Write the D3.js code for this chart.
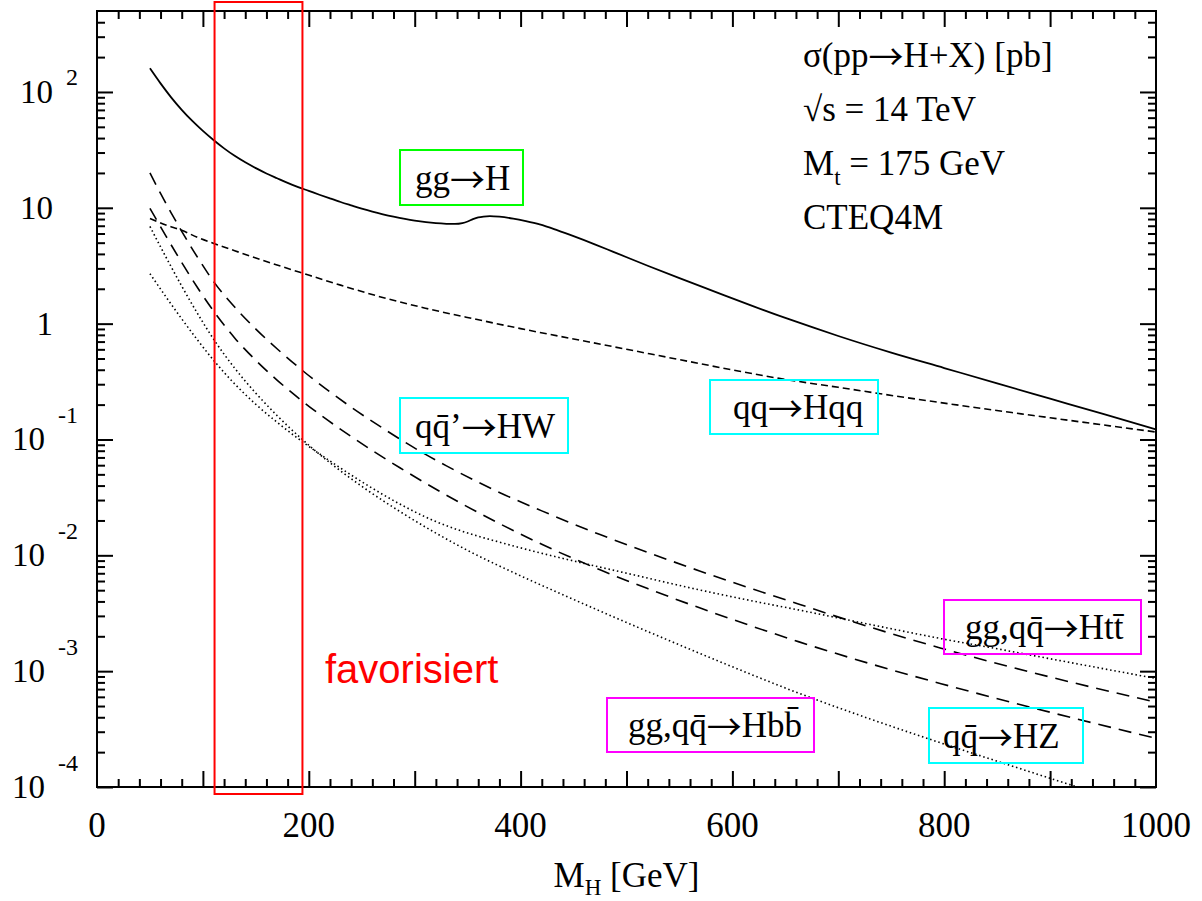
<!DOCTYPE html>
<html>
<head>
<meta charset="utf-8">
<script src="https://cdn.jsdelivr.net/npm/d3@7"></script>
<style>
  body { margin: 0; background: #fff; }
  text { font-family: "Liberation Serif", "Times New Roman", serif; fill: #000; }
</style>
</head>
<body>
<svg id="chart"></svg>
<script>
////////////////////////////////////////////////////////////////////////////////
//////////////////////////////////////////////////////////////////////// Data
////////////////////////////////////////////////////////////////////////////////

// gg -> H (solid)
const ggMass  = [50, 60, 70, 80, 90, 100, 110, 120, 130, 140, 150, 160, 170, 180, 190,
                 200, 210, 220, 230, 240, 250, 260, 270, 280, 300, 320, 330, 338, 345,
                 350, 355, 360, 365, 371, 380, 393, 405, 418, 435, 450, 470, 487, 520,
                 550, 582, 620, 650, 676, 700, 750, 800, 850, 900, 950, 1000];
const ggXsec  = [160, 118.6, 89.9, 70.1, 56.2, 46.1, 38.5, 32.6, 28.1, 24.7, 22.0, 19.8, 18.0, 16.4, 15.1,
                 14.0, 12.97, 12.05, 11.22, 10.5, 9.84, 9.27, 8.79, 8.38, 7.74, 7.36, 7.28, 7.26, 7.38,
                 7.62, 7.98, 8.26, 8.41, 8.49, 8.39, 8.07, 7.67, 7.18, 6.38, 5.69, 4.84, 4.19, 3.16,
                 2.47, 1.91, 1.41, 1.12, 0.927, 0.782, 0.562, 0.414, 0.305, 0.225, 0.166, 0.122];

// qq -> Hqq (short dashes)
const wbfMass = [50, 65, 80, 95, 111, 130, 150, 170, 194, 230, 267, 310, 358, 400, 456,
                 500, 550, 600, 644, 700, 757, 800, 900, 1000];
const wbfXsec = [8.1, 7.1, 6.4, 5.55, 4.9, 4.26, 3.69, 3.21, 2.73, 2.15, 1.71, 1.36, 1.09, 0.906, 0.72,
                 0.601, 0.489, 0.399, 0.337, 0.282, 0.235, 0.206, 0.154, 0.116];

// q qbar' -> HW (long dashes)
const hwMass  = [50, 60, 70, 80, 95, 111, 130, 150, 170, 194, 239, 273, 302, 330, 358,
                 380, 420, 475, 520, 569, 620, 663, 730, 797, 900, 1000];
const hwXsec  = [20, 13.3, 9.06, 6.27, 3.73, 2.25, 1.39, 0.898, 0.607, 0.394, 0.193, 0.120, 0.0822, 0.0592, 0.0437,
                 0.0349, 0.0242, 0.0151, 0.0106, 0.00733, 0.00509, 0.00378, 0.0024, 0.00158, 0.00089, 0.00054];

// q qbar -> HZ (long dashes)
const hzMass  = [50, 65, 80, 95, 111, 130, 150, 170, 194, 240, 286, 346, 380, 420, 475,
                 520, 569, 620, 663, 730, 797, 900, 1000];
const hzXsec  = [9.9, 5.73, 3.37, 2.04, 1.25, 0.753, 0.482, 0.326, 0.214, 0.106, 0.057, 0.0274, 0.0188, 0.01245, 0.0075,
                 0.00516, 0.00352, 0.00242, 0.00179, 0.00116, 0.00078, 0.000442, 0.000263];

// gg, q qbar -> H t tbar (dots)
const httMass = [50, 65, 80, 95, 111, 130, 150, 170, 194, 220, 254, 286, 317, 340, 358,
                 380, 412, 460, 506, 568, 620, 663, 730, 797, 850, 908, 1000];
const httXsec = [2.7, 1.71, 1.10, 0.721, 0.472, 0.302, 0.201, 0.141, 0.0955, 0.0652, 0.041, 0.0277, 0.0201, 0.0167, 0.0148,
                 0.0130, 0.01086, 0.00851, 0.00681, 0.00505, 0.00402, 0.00337, 0.00253, 0.00191, 0.00156, 0.00124, 0.000865];

// gg, q qbar -> H b bbar (dots)
const hbbMass = [50, 65, 80, 95, 111, 130, 150, 170, 194, 220, 254, 286, 320, 349, 400,
                 443, 490, 537, 600, 663, 730, 790, 850, 920, 945];
const hbbXsec = [6.9, 3.77, 2.11, 1.22, 0.714, 0.413, 0.251, 0.161, 0.0998, 0.063, 0.0372, 0.0239, 0.01556, 0.01114, 0.00665,
                 0.00444, 0.00288, 0.00189, 0.00109, 0.000644, 0.000387, 0.000252, 0.000167, 0.000104, 0.0000883];

// Axis ticks
const xTickLabels = [0, 200, 400, 600, 800, 1000];
const yTickValues = [1e2, 1e1, 1, 1e-1, 1e-2, 1e-3, 1e-4];
const yTickBases = ["10", "10", "1", "10", "10", "10", "10"];
const yTickExponents = ["2", "", "", "-1", "-2", "-3", "-4"];

// Process labels and the favoured mass window
const processLabels = ["gg\u2192H", "qq\u0304\u2019\u2192HW", "qq\u2192Hqq",
                       "gg,qq\u0304\u2192Htt\u0304", "gg,qq\u0304\u2192Hbb\u0304", "qq\u0304\u2192HZ"];
const favouredWindow = [111, 194];

////////////////////////////////////////////////////////////////////////////////
//////////////////////////////////////////////////////////////////////// Chart
////////////////////////////////////////////////////////////////////////////////

const plot = { left: 97, right: 1156, top: 11, bottom: 787 };
const arrowFont = "'Noto Sans CJK JP', 'DejaVu Sans', sans-serif";

const svg = d3.select("#chart")
              .attr("width", 1202)
              .attr("height", 901);

const xScale = d3.scaleLinear()
                 .domain([0, 1000])
                 .range([plot.left, plot.right]);
const yScale = d3.scaleLog()
                 .domain([1e-4, 500])
                 .range([plot.bottom, plot.top]);

svg.append("clipPath")
     .attr("id", "plot-clip")
   .append("rect")
     .attr("x", plot.left)
     .attr("y", plot.top)
     .attr("width", plot.right - plot.left)
     .attr("height", plot.bottom - plot.top);

// Write a string into a text node, drawing every arrow with a wide arrow glyph
function writeWithArrows(textSel, str) {
  const parts = str.split("\u2192");
  parts.forEach(function(p, i) {
    if (i > 0) {
      textSel.append("tspan")
               .attr("dy", 3)
               .style("font-family", arrowFont)
               .text("\u2192");
      textSel.append("tspan").attr("dy", -3).text(p);
    } else {
      textSel.append("tspan").text(p);
    }
  });
}

// Curves
const series = [
  { mass: ggMass,  xsec: ggXsec,  dash: null,      width: 1.8 },
  { mass: wbfMass, xsec: wbfXsec, dash: "7,4",     width: 1.6 },
  { mass: hwMass,  xsec: hwXsec,  dash: "13,8",    width: 1.6 },
  { mass: hzMass,  xsec: hzXsec,  dash: "13,8",    width: 1.6 },
  { mass: httMass, xsec: httXsec, dash: "1.5,2.8", width: 1.6 },
  { mass: hbbMass, xsec: hbbXsec, dash: "1.5,2.8", width: 1.6 }
];

const line = d3.line()
               .x(function(d) { return xScale(d[0]); })
               .y(function(d) { return yScale(d[1]); })
               .curve(d3.curveMonotoneX);

svg.append("g")
     .attr("clip-path", "url(#plot-clip)")
   .selectAll("path")
   .data(series)
   .join("path")
     .attr("fill", "none")
     .attr("stroke", "#000")
     .attr("stroke-width", function(d) { return d.width; })
     .attr("stroke-dasharray", function(d) { return d.dash; })
     .attr("d", function(d) {
       return line(d.mass.map(function(m, i) { return [m, d.xsec[i]]; }));
     });

// Ticks (inward, on all four sides)
const xMinor = d3.range(20, 1000, 20).filter(function(v) { return v % 100 !== 0; });
const xMajor = d3.range(100, 1000, 100);
const yMajor = yTickValues;
const yMinor = [];
for (let e = -4; e <= 2; e++) {
  for (let k = 2; k <= 9; k++) {
    const v = k * Math.pow(10, e);
    if (v < 500) yMinor.push(v);
  }
}

function addAxis(axis, transform) {
  const g = svg.append("g")
                 .attr("transform", transform)
                 .call(axis);
  g.select(".domain").remove();
  g.selectAll(".tick line")
     .attr("stroke", "#000")
     .attr("stroke-width", 2);
  g.selectAll(".tick text").remove();
}

addAxis(d3.axisBottom(xScale).tickValues(xMinor).tickSize(-8), `translate(0,${plot.bottom})`);
addAxis(d3.axisBottom(xScale).tickValues(xMajor).tickSize(-16), `translate(0,${plot.bottom})`);
addAxis(d3.axisTop(xScale).tickValues(xMinor).tickSize(-8), `translate(0,${plot.top})`);
addAxis(d3.axisTop(xScale).tickValues(xMajor).tickSize(-16), `translate(0,${plot.top})`);
addAxis(d3.axisLeft(yScale).tickValues(yMinor).tickSize(-8), `translate(${plot.left},0)`);
addAxis(d3.axisLeft(yScale).tickValues(yMajor).tickSize(-16), `translate(${plot.left},0)`);
addAxis(d3.axisRight(yScale).tickValues(yMinor).tickSize(-8), `translate(${plot.right},0)`);
addAxis(d3.axisRight(yScale).tickValues(yMajor).tickSize(-16), `translate(${plot.right},0)`);

// Frame
svg.append("rect")
     .attr("x", plot.left)
     .attr("y", plot.top)
     .attr("width", plot.right - plot.left)
     .attr("height", plot.bottom - plot.top)
     .attr("fill", "none")
     .attr("stroke", "#000")
     .attr("stroke-width", 2);

// X tick labels
svg.selectAll(".x-label")
   .data(xTickLabels)
   .join("text")
     .attr("class", "x-label")
     .attr("x", function(d) { return xScale(d); })
     .attr("y", 837)
     .attr("text-anchor", "middle")
     .style("font-size", "35px")
     .text(function(d) { return d; });

// Y tick labels (10 with superscript exponent)
const yLabels = svg.selectAll(".y-label")
                   .data(yTickValues)
                   .join("text")
                     .attr("class", "y-label")
                     .attr("x", function(d, i) { return yTickExponents[i] ? 78 : 53; })
                     .attr("y", function(d) { return yScale(d) + 11; })
                     .attr("text-anchor", "end")
                     .style("font-size", "33px");
yLabels.append("tspan")
         .text(function(d, i) { return yTickBases[i]; });
yLabels.filter(function(d, i) { return yTickExponents[i] !== ""; })
       .append("tspan")
         .attr("dx", 13)
         .attr("dy", function(d) { return d > 1 ? -18 : -27; })
         .style("font-size", "24px")
         .text(function(d) { return yTickExponents[yTickValues.indexOf(d)]; });

// X-axis title
const xTitle = svg.append("text")
                    .attr("x", xScale(500))
                    .attr("y", 887)
                    .attr("text-anchor", "middle")
                    .style("font-size", "35px");
xTitle.append("tspan").text("M");
xTitle.append("tspan").attr("dy", 8).style("font-size", "23px").text("H");
xTitle.append("tspan").attr("dy", -8).text(" [GeV]");

// Info block
const infoLines = svg.append("g")
                       .style("font-size", "35px");
writeWithArrows(infoLines.append("text").attr("x", 803).attr("y", 67), "\u03c3(pp\u2192H+X) [pb]");
infoLines.append("text").attr("x", 803).attr("y", 121).text("\u221as = 14 TeV");
const mtLine = infoLines.append("text").attr("x", 803).attr("y", 175);
mtLine.append("tspan").text("M");
mtLine.append("tspan").attr("dy", 10).style("font-size", "23px").text("t");
mtLine.append("tspan").attr("dy", -10).text(" = 175 GeV");
infoLines.append("text").attr("x", 803).attr("y", 229).text("CTEQ4M");

// Process label boxes
const labelBoxes = [
  { x: 400, y: 150, w: 123, h: 55, tx: 415, color: "#00ff00" },
  { x: 400, y: 398, w: 168, h: 55, tx: 415, color: "#00ffff" },
  { x: 710, y: 380, w: 168, h: 54, tx: 733, color: "#00ffff" },
  { x: 944, y: 600, w: 197, h: 54, tx: 965, color: "#ff00ff" },
  { x: 607, y: 698, w: 207, h: 54, tx: 628, color: "#ff00ff" },
  { x: 929, y: 708, w: 154, h: 55, tx: 943, color: "#00ffff" }
];

const boxes = svg.selectAll(".proc")
                 .data(labelBoxes)
                 .join("g")
                   .attr("class", "proc");
boxes.append("rect")
       .attr("x", function(d) { return d.x; })
       .attr("y", function(d) { return d.y; })
       .attr("width", function(d) { return d.w; })
       .attr("height", function(d) { return d.h; })
       .attr("fill", "none")
       .attr("stroke", function(d) { return d.color; })
       .attr("stroke-width", 2);
boxes.each(function(d, i) {
  const t = d3.select(this).append("text")
                             .attr("x", d.tx)
                             .attr("y", d.y + d.h / 2 + 12)
                             .style("font-size", "35px");
  writeWithArrows(t, processLabels[i]);
});

// Favoured mass window
svg.append("rect")
     .attr("x", xScale(favouredWindow[0]))
     .attr("y", 2)
     .attr("width", xScale(favouredWindow[1]) - xScale(favouredWindow[0]))
     .attr("height", 792)
     .attr("fill", "none")
     .attr("stroke", "#ff0000")
     .attr("stroke-width", 2);

svg.append("text")
     .attr("x", 325)
     .attr("y", 683)
     .style("font-family", "'Liberation Sans', Arial, sans-serif")
     .style("font-size", "40px")
     .style("fill", "#ff0000")
     .text("favorisiert");
</script>
</body>
</html>
